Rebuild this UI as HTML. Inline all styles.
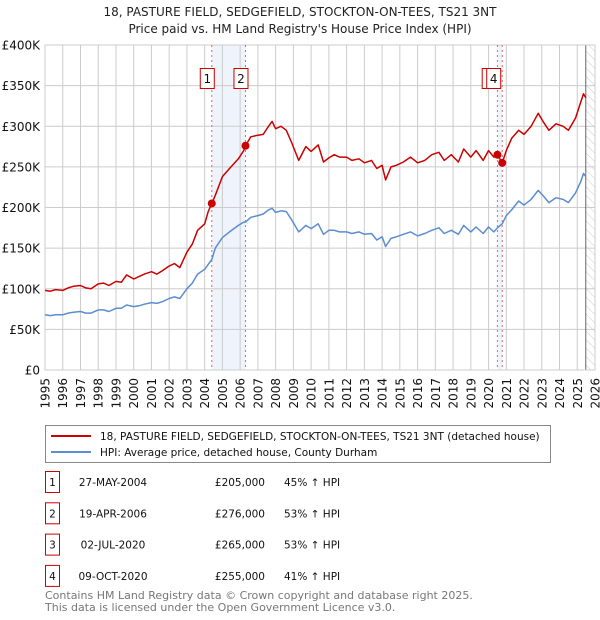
<!DOCTYPE html>
<html><head><meta charset="utf-8">
<style>
body{margin:0;background:#fff;font-family:"DejaVu Sans","Liberation Sans",sans-serif;}
svg{display:block}
</style></head>
<body>
<svg id="chart" width="600" height="620" viewBox="0 0 600 620">
<defs>
<pattern id="hatch" width="6" height="6" patternUnits="userSpaceOnUse" patternTransform="rotate(-45)">
<line x1="0" y1="0" x2="0" y2="6" stroke="#ccc" stroke-width="1"/>
</pattern>
</defs>
<text x="300" y="16" text-anchor="middle" font-size="12" fill="#222">18, PASTURE FIELD, SEDGEFIELD, STOCKTON-ON-TEES, TS21 3NT</text>
<text x="300" y="33" text-anchor="middle" font-size="12" fill="#222">Price paid vs. HM Land Registry's House Price Index (HPI)</text>
<g id="plot"></g>
<g>
<rect x="45.5" y="425.5" width="505" height="37" fill="#fff" stroke="#888"/>
<line x1="51" y1="436" x2="91" y2="436" stroke="#cc0000" stroke-width="2"/>
<text x="100" y="440" font-size="10.5" fill="#111">18, PASTURE FIELD, SEDGEFIELD, STOCKTON-ON-TEES, TS21 3NT (detached house)</text>
<line x1="51" y1="452" x2="91" y2="452" stroke="#5b8dd0" stroke-width="2"/>
<text x="100" y="456" font-size="10.5" fill="#111">HPI: Average price, detached house, County Durham</text>
</g>
<g id="table"></g>
<text x="45" y="599" font-size="11" fill="#777">Contains HM Land Registry data © Crown copyright and database right 2025.</text>
<text x="45" y="611" font-size="11" fill="#777">This data is licensed under the Open Government Licence v3.0.</text>
</svg>
<script>
const yearTicks=[1995,1996,1997,1998,1999,2000,2001,2002,2003,2004,2005,2006,2007,2008,2009,2010,2011,2012,2013,2014,2015,2016,2017,2018,2019,2020,2021,2022,2023,2024,2025,2026];
const valueTicks=[0,50000,100000,150000,200000,250000,300000,350000,400000];
const valueLabels=["£0","£50K","£100K","£150K","£200K","£250K","£300K","£350K","£400K"];
const redDates=[1995,1995.3,1995.6,1996,1996.3,1996.6,1997,1997.3,1997.6,1998,1998.3,1998.6,1999,1999.3,1999.6,2000,2000.3,2000.6,2001,2001.3,2001.6,2002,2002.3,2002.6,2003,2003.3,2003.6,2004,2004.2,2004.4,2004.6,2005,2005.4,2005.9,2006.2,2006.3,2006.6,2007,2007.3,2007.6,2007.8,2008,2008.3,2008.6,2008.9,2009.3,2009.7,2010,2010.4,2010.7,2011,2011.3,2011.6,2012,2012.3,2012.7,2013,2013.4,2013.7,2014,2014.2,2014.5,2014.8,2015.2,2015.6,2016,2016.4,2016.8,2017.2,2017.5,2017.9,2018.3,2018.6,2019,2019.3,2019.7,2020,2020.3,2020.5,2020.77,2021,2021.3,2021.7,2022,2022.4,2022.8,2023.1,2023.4,2023.8,2024.2,2024.5,2024.9,2025.2,2025.35,2025.48];
const redValues=[98,97,99,98,101,103,104,101,100,106,107,104,109,108,117,112,115,118,121,118,122,128,131,126,145,155,172,180,195,205,215,238,248,260,270,276,287,289,290,300,306,297,300,295,280,258,275,269,277,256,261,265,262,262,258,260,255,258,248,252,234,250,252,256,262,255,258,265,268,258,265,256,272,262,270,258,270,262,265,255,270,285,295,290,300,316,305,295,303,300,295,310,330,340,335];
const blueDates=[1995,1995.3,1995.6,1996,1996.3,1996.6,1997,1997.3,1997.6,1998,1998.3,1998.6,1999,1999.3,1999.6,2000,2000.3,2000.6,2001,2001.3,2001.6,2002,2002.3,2002.6,2003,2003.3,2003.6,2004,2004.2,2004.4,2004.6,2005,2005.4,2005.9,2006.2,2006.3,2006.6,2007,2007.3,2007.6,2007.8,2008,2008.3,2008.6,2008.9,2009.3,2009.7,2010,2010.4,2010.7,2011,2011.3,2011.6,2012,2012.3,2012.7,2013,2013.4,2013.7,2014,2014.2,2014.5,2014.8,2015.2,2015.6,2016,2016.4,2016.8,2017.2,2017.5,2017.9,2018.3,2018.6,2019,2019.3,2019.7,2020,2020.3,2020.5,2020.77,2021,2021.3,2021.7,2022,2022.4,2022.8,2023.1,2023.4,2023.8,2024.2,2024.5,2024.9,2025.2,2025.35,2025.48];
const blueValues=[68,67,68,68,70,71,72,70,70,74,74,72,76,76,80,78,79,81,83,82,84,88,90,88,100,107,118,124,130,136,150,163,170,178,182,182,188,190,192,197,199,194,196,195,185,170,178,174,180,167,172,172,170,170,168,170,167,168,160,164,152,162,164,167,170,165,168,172,175,168,172,167,178,170,176,168,176,170,175,180,190,197,208,203,210,221,214,206,212,210,206,218,232,242,238];
const sales=[{n:"1",d:"27-MAY-2004",t:2004.40,p:205000,h:"45% ↑ HPI"},{n:"2",d:"19-APR-2006",t:2006.30,p:276000,h:"53% ↑ HPI"},{n:"3",d:"02-JUL-2020",t:2020.50,p:265000,h:"53% ↑ HPI"},{n:"4",d:"09-OCT-2020",t:2020.77,p:255000,h:"41% ↑ HPI"}];

const L=45,R=595,T=45,B=370;
const X=t=>L+(t-1995)*(R-L)/31;
const Y=v=>B-v*(B-T)/400000;
const NS="http://www.w3.org/2000/svg";
const plot=document.getElementById('plot');
function mk(tag,attrs,parent){const e=document.createElementNS(NS,tag);for(const k in attrs)e.setAttribute(k,attrs[k]);(parent||plot).appendChild(e);return e;}

mk('rect',{x:L,y:T,width:R-L,height:B-T,fill:'#fff'});
const b1=mk('rect',{x:X(sales[0].t),y:T,width:X(sales[1].t)-X(sales[0].t),height:B-T,fill:'#eef3fc'});


const b2=mk('rect',{x:X(sales[2].t),y:T,width:X(sales[3].t)-X(sales[2].t),height:B-T,fill:'#eef3fc'});


const hx=X(2025.48);
const hr=mk('rect',{x:hx,y:T,width:R-hx,height:B-T,fill:'url(#hatch)'});


yearTicks.forEach(y=>{
 mk('line',{x1:X(y),y1:T,x2:X(y),y2:B,stroke:'#ccc','stroke-width':1});
 const t=mk('text',{x:0,y:0,'font-size':12,fill:'#111','text-anchor':'end',transform:`translate(${X(y)+4.5},${B+8}) rotate(-90)`});
 t.textContent=y;
 
 
});
valueTicks.forEach((v,i)=>{
 mk('line',{x1:L,y1:Y(v),x2:R,y2:Y(v),stroke:'#ccc','stroke-width':1});
 const t=mk('text',{x:L-5,y:Y(v)+4.5,'font-size':12,fill:'#111','text-anchor':'end'});
 t.textContent=valueLabels[i];
 
 
});
mk('line',{x1:hx,y1:T,x2:hx,y2:B,stroke:'#666','stroke-width':1});
mk('rect',{x:L,y:T,width:R-L,height:B-T,fill:'none',stroke:'#ccc'});
sales.forEach(s=>{
 const l=mk('line',{x1:X(s.t),y1:T,x2:X(s.t),y2:B,stroke:'#e06666','stroke-width':1,'stroke-dasharray':'2,3'});
 
 
});
function path(ds,vs){return ds.map((d,i)=>(i?'L':'M')+X(d).toFixed(1)+','+Y(vs[i]*1000).toFixed(1)).join('');}
const bl=mk('path',{d:path(blueDates,blueValues),fill:'none',stroke:'#5b8dd0','stroke-width':1.5,'stroke-linejoin':'round'});


const rl=mk('path',{d:path(redDates,redValues),fill:'none',stroke:'#cc0000','stroke-width':1.5,'stroke-linejoin':'round'});


sales.forEach((s,i)=>{
 const c=mk('circle',{cx:X(s.t),cy:Y(s.p),r:4,fill:'#cc0000'});
 
 
 if(i===2) return;
 const bx=X(s.t)-(i===3?14:12)-(i===3?2:0);
 const g=mk('g',{});
 
 
 if(i===3) mk('rect',{x:bx-4,y:68.5,width:16,height:20,fill:'#fff',stroke:'#cc0000'},g);
 mk('rect',{x:bx+0.5,y:68.5,width:14,height:20,fill:'#fff',stroke:'#cc0000'},g);
 const t=mk('text',{x:bx+7.5,y:83,'font-size':12,'text-anchor':'middle',fill:'#111'},g);
 t.textContent=s.n;
});
const tb=document.getElementById('table');
sales.forEach((s,i)=>{
 const y=482+i*31.3;
 const g=mk('g',{},tb);
 
 
 mk('rect',{x:45.5,y:y-10.5,width:14,height:21,fill:'#fff',stroke:'#cc0000'},g);
 const a=mk('text',{x:52.5,y:y+4,'font-size':10.5,'text-anchor':'middle',fill:'#111'},g);a.textContent=s.n;
 const b=mk('text',{x:113,y:y+4,'font-size':10.5,'text-anchor':'middle',fill:'#111'},g);b.textContent=s.d;
 const c=mk('text',{x:265,y:y+4,'font-size':10.5,'text-anchor':'end',fill:'#111'},g);c.textContent='£'+s.p.toLocaleString('en-GB');
 const d=mk('text',{x:284,y:y+4,'font-size':10.5,fill:'#111'},g);d.textContent=s.h;
});
</script>
</body></html>
